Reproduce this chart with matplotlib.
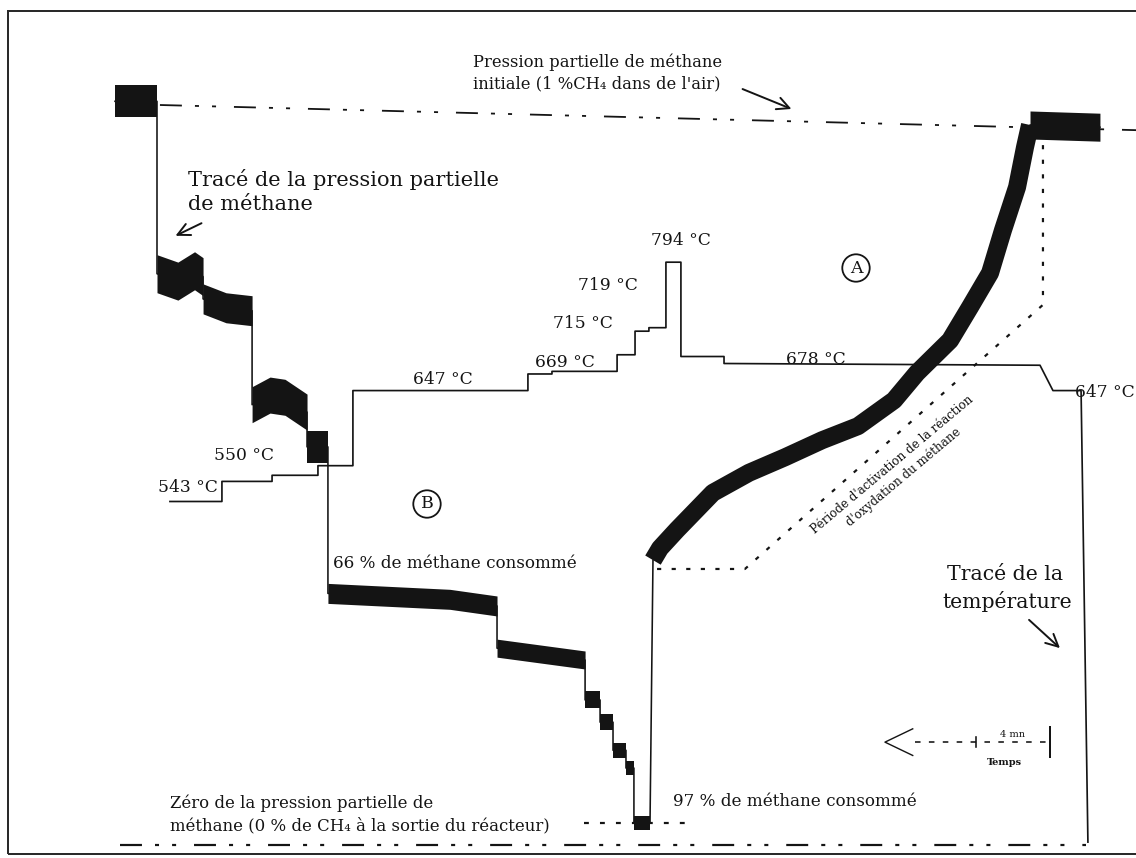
import matplotlib
matplotlib.use("Agg")
import matplotlib.pyplot as plt
from matplotlib.patches import Rectangle

plt.rcParams["font.family"] = ["DejaVu Serif", "DejaVu Sans"]
plt.rcParams["lines.scale_dashes"] = False

# ---------------------------------------------------------------- data
# Methane partial pressure at reactor outlet (% of the inlet value),
# one list per plateau of the recorder trace; time in minutes.
ch4_time = [
    [0.0, 1.2, 2.27],
    [2.27, 3.4, 4.3, 4.76],
    [4.76, 6.0, 7.41],
    [7.41, 8.38, 9.19, 10.38],
    [10.38, 11.51],
    [11.51, 18.1, 20.65],
    [20.65, 25.41],
    [25.41, 26.22],
    [26.22, 26.92],
    [26.92, 27.62],
    [27.62, 28.05],
    [28.05, 28.92],
    [29.08, 29.46, 30.38, 32.32, 34.27, 36.22, 38.22, 40.16, 42.11,
     43.35, 45.14, 46.22, 47.30, 48.00, 48.76, 49.19, 49.46],
    [49.46, 53.24],
]
ch4_level = [
    [100.5, 100.5, 100.5],
    [77.2, 76.2, 77.6, 76.8],
    [73.8, 72.6, 72.2],
    [59.5, 60.8, 60.5, 58.5],
    [53.8, 53.8],
    [34.0, 33.2, 32.3],
    [26.6, 25.0],
    [19.6, 19.6],
    [16.6, 16.6],
    [12.8, 12.8],
    [10.4, 10.4],
    [3.0, 3.0],
    [38.5, 40.1, 42.6, 47.6, 50.3, 52.4, 54.7, 56.6, 60.1,
     63.8, 68.2, 72.7, 77.3, 83.1, 88.9, 94.3, 97.3],
    [97.3, 97.0],
]

# Catalyst bed temperature (°C)
temp_time = [2.97, 5.78, 5.78, 8.49, 8.49, 10.97, 10.97, 12.86, 12.86,
             22.32, 22.32, 23.62, 23.62, 27.14, 27.14, 28.11, 28.11,
             28.86, 28.86, 29.78, 29.78, 30.59, 30.59, 32.92, 32.92,
             50.0, 50.70, 52.22, 52.59]
temp_value = [520, 520, 543, 543, 550, 550, 561, 561, 647,
              647, 666, 666, 669, 669, 688, 688, 715,
              715, 719, 719, 794, 794, 686, 686, 678,
              676, 647, 647, 130]

# Reference levels of the methane signal
initial_time = [2.43, 55.2]
initial_level = [100.0, 96.6]
zero_time = [0.27, 52.5]
zero_level = [0.0, 0.0]

consumed_first = 66      # % methane converted on the 647 °C plateau
consumed_max = 97        # % methane converted at the highest temperature
max_conv_time = [25.35, 31.24]

# Activation period guide (time, % methane)
activation_time = [29.3, 34.05, 50.16, 50.16]
activation_level = [37.3, 37.3, 73.0, 95.3]

# Time scale bar
scale_end = 50.54
scale_minutes = 4
scale_level = 13.9

# ---------------------------------------------------------------- figure
W, H = 1136, 858
fig = plt.figure(figsize=(W / 100, H / 100), dpi=100)
fig.patch.set_facecolor("white")

PX = 0.72  # points per pixel at 100 dpi
X0, PX_PER_MIN = 115, 18.5
Y0, PX_PER_PCT = 845, 7.4

ax = fig.add_axes([0, 0, 1, 1])
ax.set_xlim(-X0 / PX_PER_MIN, (W - X0) / PX_PER_MIN)
ax.set_ylim((Y0 - H) / PX_PER_PCT, Y0 / PX_PER_PCT)
ax.axis("off")

axT = fig.add_axes([0, 0, 1, 1], sharex=ax)
axT.set_ylim(111.8, 1094.2)
axT.axis("off")
axT.patch.set_visible(False)

INK = "#141414"


def frac(x, y):
    return (x / W, 1 - y / H)


def put(x, y, s, size, ha="left", **kw):
    fig.text(*frac(x, y), s, fontsize=size, ha=ha, va="center",
             color=INK, **kw)


def arrow(x1, y1, x2, y2):
    ax.annotate("", xy=frac(x2, y2), xytext=frac(x1, y1),
                xycoords="figure fraction", textcoords="figure fraction",
                arrowprops=dict(arrowstyle="->", lw=1.4, color=INK,
                                mutation_scale=22))


# frame
fig.patches.append(Rectangle(frac(8, 854), (W + 40) / W, (854 - 11) / H,
                             transform=fig.transFigure, fill=False,
                             lw=2.0 * PX, ec="#2a2a2a"))

# reference lines: inlet level and zero
dashdotdot = (0, (15.8, 9.4, 2.9, 9.4, 2.9, 12.9))
ax.plot(initial_time, initial_level, color=INK, lw=1.8 * PX,
        linestyle=dashdotdot)
ax.plot(zero_time, zero_level, color=INK, lw=2.2 * PX,
        linestyle=dashdotdot)

# methane trace: thin connecting line plus noise band on each plateau
all_t = [t for seg in ch4_time for t in seg]
all_v = [v for seg in ch4_level for v in seg]
ax.plot(all_t, all_v, color=INK, lw=1.6 * PX, zorder=4)

band_px = [32, 38, 30, 36, 32, 20, 18, 17, 16, 15, 14, 14, 18, 28]
for seg_t, seg_v, w in zip(ch4_time, ch4_level, band_px):
    if len(seg_t) > 6:
        # rising part: constant thickness across the slope
        ax.plot(seg_t, seg_v, color=INK, lw=w * PX,
                solid_capstyle="butt", solid_joinstyle="round", zorder=4)
    else:
        half = w / 2 / PX_PER_PCT
        ax.fill_between(seg_t, [v - half for v in seg_v],
                        [v + half for v in seg_v], color=INK, lw=0,
                        zorder=4)

# temperature trace
axT.plot(temp_time, temp_value, color=INK, lw=1.7 * PX, zorder=2)

# conversion guides
ax.plot(max_conv_time, [100 - consumed_max] * 2, color=INK, lw=2.2 * PX,
        linestyle=(0, (3.5, 8)))
ax.plot(activation_time, activation_level, color=INK, lw=2.2 * PX,
        linestyle=(0, (3.0, 7.5)))

# time scale bar
tip = scale_end - 8.92
ax.plot([tip + 1.6, scale_end], [scale_level] * 2, color=INK,
        lw=1.6 * PX, linestyle=(0, (4, 6)))
ax.plot([tip + 1.5, tip, tip + 1.5],
        [scale_level + 1.8, scale_level, scale_level - 1.8],
        color=INK, lw=1.4 * PX)
ax.plot([scale_end] * 2, [scale_level - 2.0, scale_level + 2.0],
        color=INK, lw=2.0 * PX)
ax.plot([scale_end - scale_minutes] * 2,
        [scale_level - 0.7, scale_level + 0.7], color=INK, lw=1.6 * PX)
ax.text(scale_end - scale_minutes / 2, scale_level + 1.0,
        f"{scale_minutes} mn", fontsize=7, ha="center", va="center",
        color=INK)
ax.text(scale_end - scale_minutes * 0.62, scale_level - 2.7, "Temps",
        fontsize=7, fontweight="bold", ha="center", va="center", color=INK)

# ---------------------------------------------------------------- text
put(473, 62, "Pression partielle de méthane", 11.8)
put(473, 84, "initiale (1 %CH₄ dans de l'air)", 11.8)
arrow(740, 88, 794, 110)

put(188, 179, "Tracé de la pression partielle", 15)
put(188, 205, "de méthane", 15)
arrow(204, 222, 173, 237)

for label, x, y in [("543 °C", 188, 487), ("550 °C", 244, 455),
                    ("647 °C", 443, 380), ("669 °C", 565, 362),
                    ("715 °C", 583, 323), ("719 °C", 608, 285),
                    ("794 °C", 681, 240), ("678 °C", 816, 360),
                    ("647 °C", 1075, 392)]:
    put(x, y, label, 12.3, ha="left" if x > 1000 else "center")

circ = dict(boxstyle="circle,pad=0.3", fc="none", ec=INK, lw=1.3)
put(856, 268, "A", 12.5, ha="center", bbox=circ)
put(427, 504, "B", 12.5, ha="center", bbox=circ)

put(333, 563, f"{consumed_first} % de méthane consommé", 12.1)
put(673, 802, f"{consumed_max} % de méthane consommé", 12.1)

put(170, 803, "Zéro de la pression partielle de", 11.9)
put(170, 826, "méthane (0 % de CH₄ à la sortie du réacteur)", 11.9)

put(1005, 575, "Tracé de la", 14.7, ha="center")
put(1007, 602, "température", 14.7, ha="center")
arrow(1027, 618, 1062, 650)

fig.text(*frac(898, 471),
         "Période d'activation de la réaction\nd'oxydation du méthane",
         fontsize=8.6, rotation=40, rotation_mode="anchor", ha="center",
         va="center", color=INK, linespacing=1.3)

fig.savefig("out.png", dpi=100, facecolor="white")
